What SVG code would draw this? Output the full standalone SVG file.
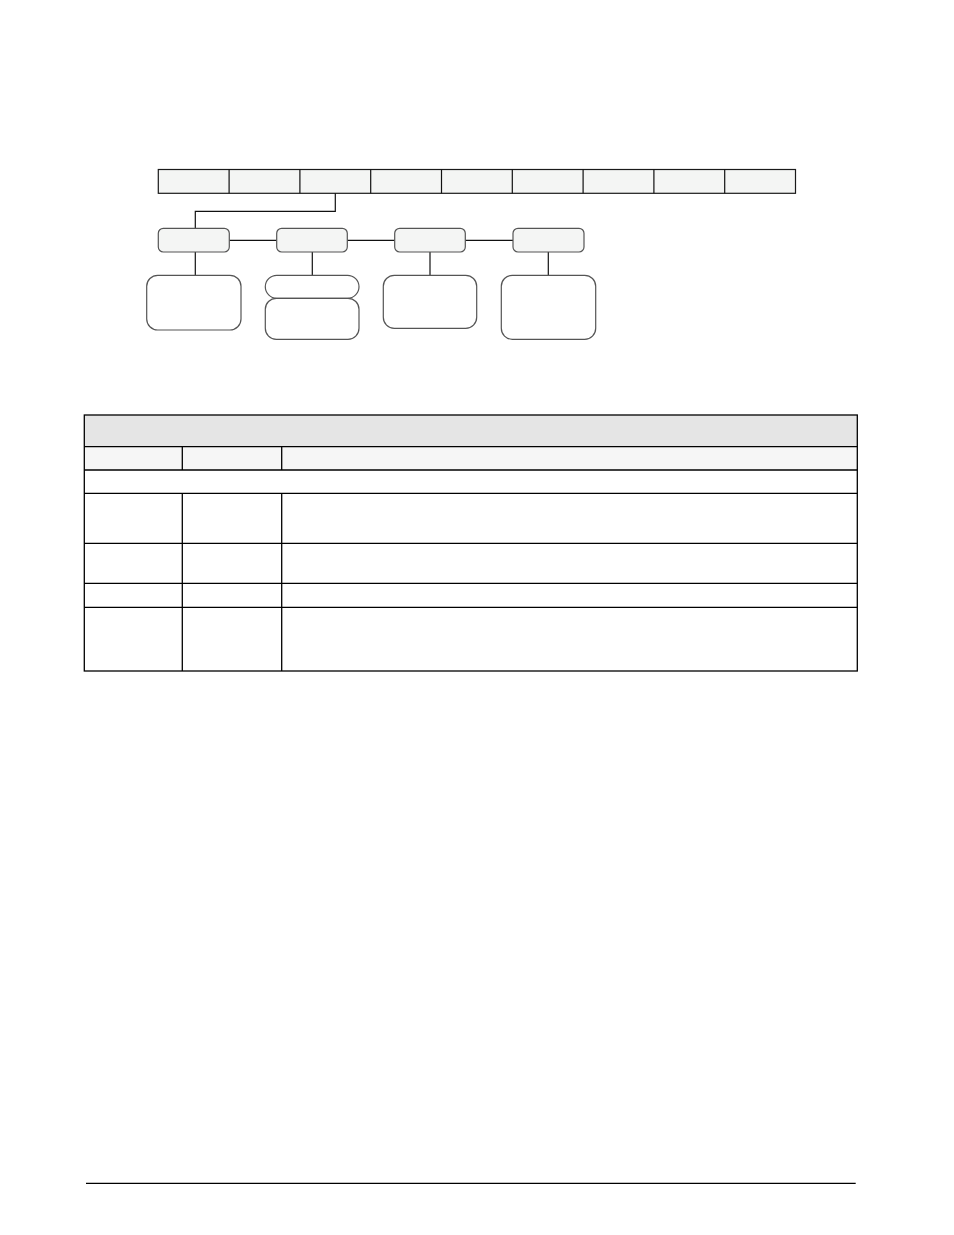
<svg xmlns="http://www.w3.org/2000/svg" width="954" height="1235" viewBox="0 0 954 1235">
<style>
.cell{fill:#f4f5f4;stroke:#1a1a1a;stroke-width:1.2}
.sub{fill:#f4f5f4;stroke:#555;stroke-width:1.2}
.leaf{fill:#fff;stroke:#555;stroke-width:1.2}
.conn{fill:none;stroke:#111;stroke-width:1.2}
.tb{stroke:#000;stroke-width:1.3;fill:none}
</style>
<rect width="954" height="1235" fill="#fff"/>
<g id="menu-bar">
<rect class="cell" x="158.3" y="169.5" width="637.2" height="23.8"/>
<g class="conn">
<line x1="229.1" y1="169.5" x2="229.1" y2="193.3"/>
<line x1="299.9" y1="169.5" x2="299.9" y2="193.3"/>
<line x1="370.7" y1="169.5" x2="370.7" y2="193.3"/>
<line x1="441.5" y1="169.5" x2="441.5" y2="193.3"/>
<line x1="512.3" y1="169.5" x2="512.3" y2="193.3"/>
<line x1="583.1" y1="169.5" x2="583.1" y2="193.3"/>
<line x1="653.9" y1="169.5" x2="653.9" y2="193.3"/>
<line x1="724.7" y1="169.5" x2="724.7" y2="193.3"/>
</g>
</g>
<g id="connectors" class="conn">
<polyline points="335.3,193.3 335.3,211.3 195.3,211.3 195.3,228.3"/>
<line x1="229.3" y1="240.3" x2="276.7" y2="240.3"/>
<line x1="347.3" y1="240.3" x2="394.7" y2="240.3"/>
<line x1="465.3" y1="240.3" x2="513" y2="240.3"/>
<line x1="195.3" y1="252" x2="195.3" y2="275.3"/>
<line x1="312.3" y1="252" x2="312.3" y2="275.3"/>
<line x1="430" y1="252" x2="430" y2="275.3"/>
<line x1="548.3" y1="252" x2="548.3" y2="275.3"/>
</g>
<g id="sub1"><rect class="sub" x="158.3" y="228.3" width="71" height="23.7" rx="5"/></g>
<g id="sub2"><rect class="sub" x="276.7" y="228.3" width="70.6" height="23.7" rx="5"/></g>
<g id="sub3"><rect class="sub" x="394.7" y="228.3" width="70.6" height="23.7" rx="5"/></g>
<g id="sub4"><rect class="sub" x="513" y="228.3" width="71" height="23.7" rx="5"/></g>
<g id="leafA"><rect class="leaf" x="146.7" y="275.3" width="94.3" height="54.7" rx="11"/></g>
<g id="leafB1"><rect class="leaf" x="265.3" y="275.3" width="93.7" height="23" rx="11.5"/></g>
<g id="leafB2"><rect class="leaf" x="265.3" y="298.3" width="93.7" height="41" rx="11"/></g>
<g id="leafC"><rect class="leaf" x="383.3" y="275.3" width="93.4" height="53" rx="11"/></g>
<g id="leafD"><rect class="leaf" x="501.3" y="275.3" width="94.4" height="64" rx="11"/></g>
<g id="table">
<rect x="84.3" y="415" width="773" height="31.7" fill="#e5e5e5"/>
<rect x="84.3" y="446.7" width="773" height="23.3" fill="#f6f6f6"/>
<rect class="tb" x="84.3" y="415" width="773" height="256"/>
<g class="tb">
<line x1="84.3" y1="446.7" x2="857.3" y2="446.7"/>
<line x1="84.3" y1="470" x2="857.3" y2="470"/>
<line x1="84.3" y1="493.3" x2="857.3" y2="493.3"/>
<line x1="84.3" y1="543.3" x2="857.3" y2="543.3"/>
<line x1="84.3" y1="583.3" x2="857.3" y2="583.3"/>
<line x1="84.3" y1="607.3" x2="857.3" y2="607.3"/>
<line x1="182.3" y1="446.7" x2="182.3" y2="470"/>
<line x1="281.7" y1="446.7" x2="281.7" y2="470"/>
<line x1="182.3" y1="493.3" x2="182.3" y2="671"/>
<line x1="281.7" y1="493.3" x2="281.7" y2="671"/>
</g>
</g>
<g id="footer"><line x1="86" y1="1183.3" x2="855.7" y2="1183.3" stroke="#000" stroke-width="1.2"/></g>
</svg>
